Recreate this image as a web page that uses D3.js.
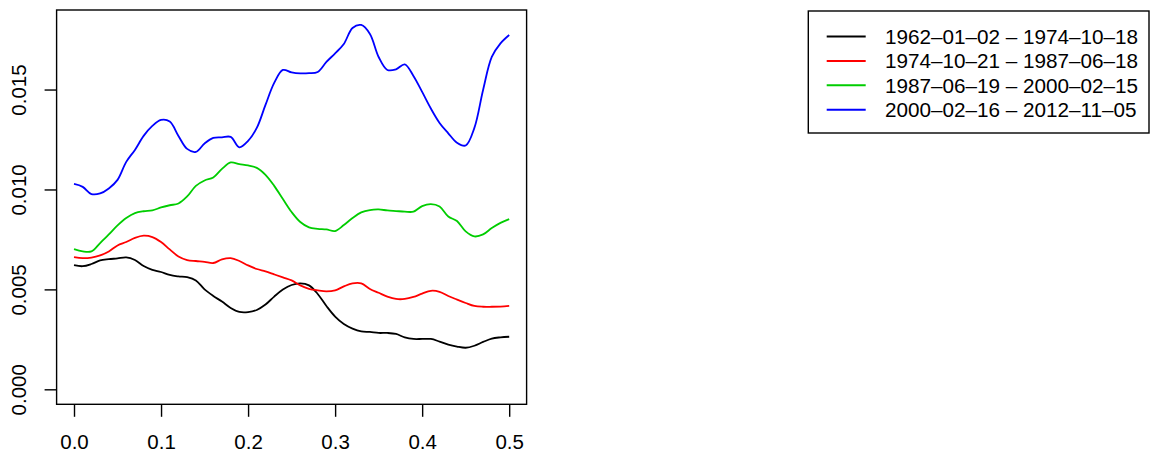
<!DOCTYPE html>
<html>
<head>
<meta charset="utf-8">
<script src="https://cdn.jsdelivr.net/npm/d3@7"></script>
<style>
  body { margin: 0; background: #fff; }
  svg { display: block; font-family: "Liberation Sans", Arial, sans-serif; }
</style>
</head>
<body>
<svg id="chart" width="1156" height="455"></svg>
<script>
// frequencies 0, 0.01, ... 0.5
var freq = d3.range(51).map(function(i){ return i / 100; });

var periods = ["1962\u201301\u201302 \u2013 1974\u201310\u201318",
               "1974\u201310\u201321 \u2013 1987\u201306\u201318",
               "1987\u201306\u201319 \u2013 2000\u201302\u201315",
               "2000\u201302\u201316 \u2013 2012\u201311\u201305"];
var colors = ["#000000", "#ff0000", "#00cd00", "#0000ff"];

var black = [0.00621, 0.00616, 0.00627, 0.00645, 0.00651, 0.00655, 0.00660, 0.00647, 0.00617, 0.00598,
             0.00587, 0.00572, 0.00565, 0.00561, 0.00545, 0.00500, 0.00467, 0.00439, 0.00407, 0.00387,
             0.00386, 0.00397, 0.00424, 0.00464, 0.00499, 0.00522, 0.00530, 0.00520, 0.00477, 0.00417,
             0.00364, 0.00327, 0.00304, 0.00290, 0.00287, 0.00282, 0.00282, 0.00277, 0.00260, 0.00252,
             0.00252, 0.00252, 0.00239, 0.00224, 0.00214, 0.00208, 0.00218, 0.00237, 0.00254, 0.00260,
             0.00263];
var red = [0.00661, 0.00656, 0.00659, 0.00670, 0.00690, 0.00720, 0.00737, 0.00758, 0.00769, 0.00762,
           0.00737, 0.00700, 0.00665, 0.00647, 0.00642, 0.00638, 0.00632, 0.00650, 0.00656, 0.00642,
           0.00620, 0.00602, 0.00590, 0.00575, 0.00560, 0.00545, 0.00520, 0.00503, 0.00495, 0.00490,
           0.00495, 0.00515, 0.00530, 0.00530, 0.00502, 0.00483, 0.00464, 0.00452, 0.00452, 0.00462,
           0.00479, 0.00493, 0.00488, 0.00467, 0.00449, 0.00432, 0.00417, 0.00413, 0.00413, 0.00414,
           0.00417];
var green = [0.00701, 0.00690, 0.00690, 0.00732, 0.00775, 0.00820, 0.00857, 0.00882, 0.00891, 0.00895,
             0.00910, 0.00921, 0.00930, 0.00965, 0.01018, 0.01045, 0.01060, 0.01103, 0.01135, 0.01127,
             0.01120, 0.01108, 0.01073, 0.01018, 0.00952, 0.00887, 0.00837, 0.00810, 0.00803, 0.00800,
             0.00792, 0.00822, 0.00857, 0.00885, 0.00897, 0.00900, 0.00895, 0.00892, 0.00889, 0.00889,
             0.00917, 0.00927, 0.00915, 0.00865, 0.00842, 0.00790, 0.00765, 0.00775, 0.00807, 0.00833,
             0.00852];
var blue = [0.010275, 0.01013, 0.00977, 0.00980, 0.01005, 0.01048, 0.01138, 0.01198, 0.01268, 0.01318,
            0.01348, 0.01340, 0.01268, 0.01203, 0.01188, 0.01230, 0.01258, 0.01261, 0.01263, 0.01211,
            0.01243, 0.01308, 0.01423, 0.01533, 0.01598, 0.01586, 0.01581, 0.01582, 0.01588, 0.01638,
            0.01681, 0.01728, 0.01808, 0.01823, 0.01778, 0.01663, 0.01598, 0.01601, 0.01626, 0.01568,
            0.01488, 0.01405, 0.01333, 0.01281, 0.01234, 0.01220, 0.01308, 0.01498, 0.01663, 0.01731,
            0.01773];

var series = [black, red, green, blue];
var xTicks = [0, 0.1, 0.2, 0.3, 0.4, 0.5];
var yTicks = [0, 0.005, 0.010, 0.015];

var svg = d3.select("#chart");

// plot region (R pads the data range by 4%)
var xScale = d3.scaleLinear().domain([-0.02, 0.52]).range([56.6, 526.6]);
var yScale = d3.scaleLinear().domain([-0.00075, 0.01898]).range([404.3, 10]);

var boxLeft = xScale.range()[0], boxRight = xScale.range()[1];
var boxTop = yScale.range()[1], boxBottom = yScale.range()[0];

// lines
var line = d3.line()
  .x(function(d){ return xScale(d[0]); })
  .y(function(d){ return yScale(d[1]); })
  .curve(d3.curveCatmullRom.alpha(0.5));

series.forEach(function(s, k){
  svg.append("path")
    .attr("d", line(freq.map(function(f, i){ return [f, s[i]]; })))
    .attr("fill", "none")
    .attr("stroke", colors[k])
    .attr("stroke-width", 1.8);
});

// box
svg.append("rect")
  .attr("x", boxLeft).attr("y", boxTop)
  .attr("width", boxRight - boxLeft).attr("height", boxBottom - boxTop)
  .attr("fill", "none").attr("stroke", "#000").attr("stroke-width", 1.4);

// x axis
var xAxis = d3.axisBottom(xScale).tickValues(xTicks).tickSize(12.5).tickFormat(d3.format(".1f"));
var xGroup = svg.append("g").attr("transform", "translate(0," + boxBottom + ")").call(xAxis);
xGroup.select(".domain").remove();
xGroup.selectAll("line").attr("stroke-width", 1.4);
xGroup.selectAll("text")
  .attr("y", 45).attr("dy", 0)
  .style("font-size", "20.5px").attr("fill", "#000");

// y axis
var yAxis = d3.axisLeft(yScale).tickValues(yTicks).tickSize(12).tickFormat(d3.format(".3f"));
var yGroup = svg.append("g").attr("transform", "translate(" + boxLeft + ",0)").call(yAxis);
yGroup.select(".domain").remove();
yGroup.selectAll("line").attr("stroke-width", 1.4);
yGroup.selectAll("text")
  .attr("transform", "rotate(-90)")
  .attr("x", 0).attr("y", -30.6).attr("dy", 0)
  .attr("text-anchor", "middle")
  .style("font-size", "20.5px").attr("fill", "#000");

// legend
var legend = svg.append("g");
legend.append("rect")
  .attr("x", 808.3).attr("y", 11)
  .attr("width", 1149 - 808.3).attr("height", 133 - 11)
  .attr("fill", "none").attr("stroke", "#000").attr("stroke-width", 1.4);

periods.forEach(function(p, k){
  var yy = 36.5 + k * 24.4;
  legend.append("line")
    .attr("x1", 826.7).attr("x2", 865.7)
    .attr("y1", yy).attr("y2", yy)
    .attr("stroke", colors[k]).attr("stroke-width", 2);
  legend.append("text")
    .attr("x", 885).attr("y", yy).attr("dy", "0.36em")
    .style("font-size", "20.7px")
    .text(p);
});
</script>
</body>
</html>
